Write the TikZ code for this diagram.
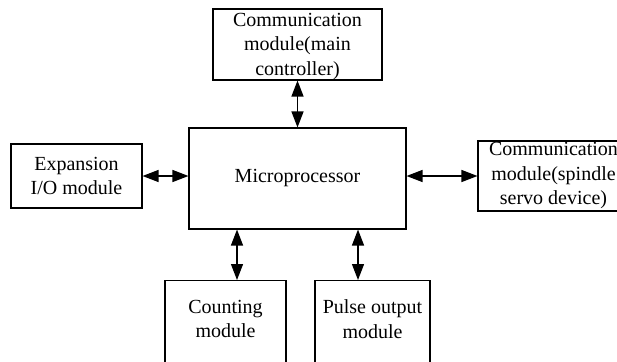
\documentclass[tikz,border=0pt]{standalone}
\usepackage{fontspec}
\setmainfont{Liberation Serif}
\usetikzlibrary{arrows.meta}
\tikzset{
  box/.style={draw, line width=1.1pt, inner sep=0pt, align=center, font=\fontsize{20}{24.5}\selectfont},
  link/.style={line width=1.3pt, {Triangle[length=16pt,width=12pt]}-{Triangle[length=16pt,width=12pt]}}
}
\begin{document}
\begin{tikzpicture}[x=1pt,y=-1pt]
\useasboundingbox (0,0) rectangle (617,361);
\clip (0,0) rectangle (617,361);
\fill[white] (0,0) rectangle (617,361);
\node[box, minimum width=169pt, minimum height=71pt] (top) at (297.5,44.5) {};
\node[font=\fontsize{20}{24.5}\selectfont, align=center, inner sep=0pt] (toptext) at (297.5,46.5) {Communication\\module(main\\controller)};
\node[box, minimum width=217pt, minimum height=101pt] (mp) at (297.5,178.5) {Microprocessor};
\node[box, minimum width=131pt, minimum height=64pt] (exp) at (76.5,176) {Expansion\\I/O module};
\node[box, minimum width=151pt, minimum height=70pt] (spin) at (553.5,176) {Communication\\module(spindle\\servo device)};
\node[box, minimum width=121pt, minimum height=110pt, anchor=north] (cnt) at (225.5,280) {};
\node[font=\fontsize{20}{24.5}\selectfont, align=center, inner sep=0pt] (cnttext) at (225.5,319) {Counting\\module};
\node[box, minimum width=115pt, minimum height=110pt, anchor=north] (pulse) at (372.5,280) {};
\node[font=\fontsize{20}{24.5}\selectfont, align=center, inner sep=0pt] (pulsetext) at (372.5,319) {Pulse output\\module};
\draw[link] (top.south -| mp.north) -- (mp.north);
\draw[link] (exp.east) -- (exp.east -| mp.west);
\draw[link] (mp.east |- spin.west) -- (spin.west);
\draw[link] (mp.south -| 237,0) -- (cnt.north -| 237,0);
\draw[link] (mp.south -| 358,0) -- (pulse.north -| 358,0);
\end{tikzpicture}
\end{document}
